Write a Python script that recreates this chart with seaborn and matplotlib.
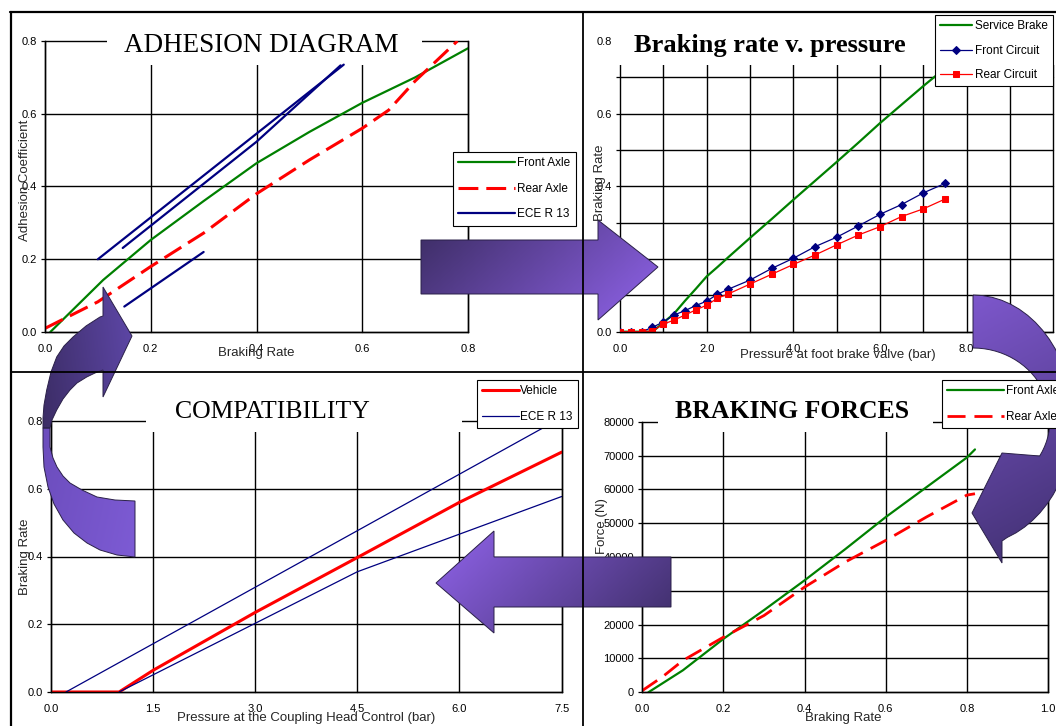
import numpy as np
import seaborn as sns
import matplotlib.pyplot as plt
from matplotlib.patches import Polygon, Rectangle
from matplotlib.colors import LinearSegmentedColormap

# ---- adhesion diagram (braking rate z vs adhesion coefficient k)
adh_front_z = [0.01, 0.11, 0.2, 0.3, 0.4, 0.5, 0.6, 0.7, 0.8]
adh_front_k = [0.0, 0.143, 0.253, 0.36, 0.464, 0.55, 0.63, 0.70, 0.78]
adh_rear_z = [0.0, 0.1, 0.2, 0.3, 0.4, 0.5, 0.6, 0.65, 0.7, 0.78]
adh_rear_k = [0.01, 0.083, 0.18, 0.272, 0.38, 0.473, 0.56, 0.61, 0.69, 0.80]
ece_a_z = [0.1, 0.565]
ece_a_k = [0.2, 0.735]
ece_b_z = [0.147, 0.4, 0.559]
ece_b_k = [0.231, 0.523, 0.733]
ece_c_z = [0.15, 0.30]
ece_c_k = [0.07, 0.22]

# ---- braking rate v. foot valve pressure
valve_p = [0, 0.25, 0.5, 0.75, 1.0, 1.25, 1.5, 1.75, 2.0, 2.25, 2.5,
           3.0, 3.5, 4.0, 4.5, 5.0, 5.5, 6.0, 6.5, 7.0, 7.5]
service = [0, 0, 0, 0, 0.025, 0.05, 0.085, 0.118, 0.152, 0.178, 0.205,
           0.258, 0.31, 0.363, 0.415, 0.467, 0.52, 0.574, 0.625, 0.676, 0.725]
front_circ = [0, 0, 0, 0.012, 0.027, 0.046, 0.058, 0.072, 0.084, 0.103, 0.117,
              0.142, 0.174, 0.202, 0.234, 0.26, 0.291, 0.323, 0.35, 0.382, 0.408]
rear_circ = [0, 0, 0, 0.002, 0.021, 0.032, 0.046, 0.060, 0.073, 0.092, 0.104,
             0.131, 0.158, 0.185, 0.211, 0.239, 0.266, 0.289, 0.317, 0.338, 0.365]

# ---- compatibility (coupling head pressure vs braking rate)
coupling_p = [0, 1.0, 1.5, 3.0, 4.5, 6.0, 7.5]
vehicle_z = [0, 0, 0.064, 0.235, 0.397, 0.56, 0.708]
ece_hi_p = [0.22, 7.5]
ece_hi_z = [0, 0.81]
ece_lo_p = [1.0, 4.5, 7.5]
ece_lo_z = [0, 0.355, 0.577]

# ---- braking forces
force_front_z = [0.015, 0.1, 0.2, 0.3, 0.4, 0.5, 0.6, 0.7, 0.8, 0.82]
force_front = [0, 6500, 15800, 24300, 33100, 42300, 51800, 60600, 69400, 71800]
force_rear_z = [0.0, 0.05, 0.1, 0.2, 0.3, 0.4, 0.5, 0.6, 0.7, 0.8, 0.82]
force_rear = [500, 4600, 9400, 16300, 22700, 31100, 38500, 44900, 51800, 58300, 58700]

GREEN, RED, NAVY = '#008000', '#ff0000', '#000080'

sns.set_style("white")
plt.rcParams['font.family'] = ['Liberation Sans', 'DejaVu Sans']
plt.rcParams['text.color'] = 'black'

W, H = 1056, 726
fig = plt.figure(figsize=(W / 100, H / 100), dpi=100)


def px_axes(x0, x1, y0, y1):
    return fig.add_axes([x0 / W, 1 - y1 / H, (x1 - x0) / W, (y1 - y0) / H])


def setup(ax, xlim, ylim, xg, yg, xl, yl, left=True, right=True):
    ax.set_xlim(*xlim)
    ax.set_ylim(*ylim)
    ax.set_xticks(xg)
    ax.set_xticklabels(xl)
    ax.set_yticks(yg)
    ax.set_yticklabels(yl)
    ax.grid(True, color='black', lw=1.0)
    for g in ax.get_xgridlines() + ax.get_ygridlines():
        g.set_clip_on(False)
    ax.tick_params(axis='x', length=0, pad=8.5, labelsize=8, colors='black')
    ax.tick_params(axis='y', length=3, width=0.9, pad=3, labelsize=8,
                   colors='black', left=True)
    ax.spines['top'].set_visible(False)
    ax.spines['left'].set_visible(left)
    ax.spines['right'].set_visible(right)
    for s in ax.spines.values():
        s.set_color('black')
        s.set_linewidth(1.0)


def labels(ax, xt, xpos, yt, ypos):
    ax.set_xlabel(xt, fontsize=9.5)
    ax.xaxis.set_label_coords(*xpos)
    ax.xaxis.label.set_va('center')
    ax.set_ylabel(yt, fontsize=9.5)
    ax.yaxis.set_label_coords(*ypos)
    ax.yaxis.label.set_va('center')


def title(ax, text, x, y, box, size, weight='normal'):
    ax.add_patch(Rectangle((box[0], box[2]), box[1] - box[0], box[3] - box[2],
                           transform=ax.transAxes, facecolor='white',
                           edgecolor='none', zorder=1.8, clip_on=False))
    ax.text(x, y, text, transform=ax.transAxes, ha='center', va='baseline',
            fontsize=size, family='Liberation Serif', weight=weight, zorder=3)


def line(ax, x, y, **kw):
    sns.lineplot(x=x, y=y, ax=ax, estimator=None, sort=False, **kw)
    return ax.lines[-1]


def legend(target, handles, names, anchor, hl, **kw):
    opts = dict(loc='upper left', bbox_to_anchor=(anchor[0] / W, 1 - anchor[1] / H),
                fancybox=False, framealpha=1, edgecolor='black',
                borderaxespad=0, handlelength=hl, handletextpad=0.2,
                labelspacing=1.15, borderpad=0.45, fontsize=8.5)
    opts.update(kw)
    if target is fig:
        lg = fig.legend(handles, names, **opts)
    else:
        lg = target.legend(handles, names, bbox_transform=fig.transFigure, **opts)
    lg.get_frame().set_linewidth(0.8)
    return lg


# ---------------- panel 1: adhesion diagram
ax1 = px_axes(45, 468, 41, 332)
setup(ax1, (0, 0.8), (0, 0.8), [0, 0.2, 0.4, 0.6, 0.8], [0, 0.2, 0.4, 0.6, 0.8],
      ['0.0', '0.2', '0.4', '0.6', '0.8'], ['0.0', '0.2', '0.4', '0.6', '0.8'])
h1 = line(ax1, adh_front_z, adh_front_k, color=GREEN, lw=1.6)
h2 = line(ax1, adh_rear_z, adh_rear_k, color=RED, lw=2.2)
h2.set_dashes([6.5, 2.6])
h3 = line(ax1, ece_a_z, ece_a_k, color=NAVY, lw=1.6)
line(ax1, ece_b_z, ece_b_k, color=NAVY, lw=1.6)
line(ax1, ece_c_z, ece_c_k, color=NAVY, lw=1.6)
labels(ax1, 'Braking Rate', (0.499, -0.072), 'Adhesion Coefficient', (-0.047, 0.522))
title(ax1, 'ADHESION DIAGRAM', 0.512, 0.962, (0.147, 0.891, 0.9175, 1.055), 19.5)
legend(ax1, [h1, h2, h3], ['Front Axle', 'Rear Axle', 'ECE R 13'], (453, 152), 4.8)

# ---------------- panel 2: braking rate v. pressure
ax2 = px_axes(620, 1053.3, 41, 331.7)
setup(ax2, (0, 10), (0, 0.8), list(range(11)), [i / 10 for i in range(9)],
      ['0.0', '', '2.0', '', '4.0', '', '6.0', '', '8.0', '', ''],
      ['0.0', '', '0.2', '', '0.4', '', '0.6', '', '0.8'], left=False, right=False)
g1 = line(ax2, valve_p, service, color=GREEN, lw=1.6)
g2 = line(ax2, valve_p, front_circ, color=NAVY, lw=0.9, marker='D', ms=4,
          mec=NAVY, mfc=NAVY)
g3 = line(ax2, valve_p, rear_circ, color=RED, lw=0.9, marker='s', ms=4,
          mec=RED, mfc=RED)
labels(ax2, 'Pressure at foot brake valve (bar)', (0.502, -0.08),
       'Braking Rate', (-0.046, 0.512))
title(ax2, 'Braking rate v. pressure', 0.346, 0.962, (-0.014, 1.01, 0.917, 1.08),
      19, 'bold')
legend(ax2, [g1, g2, g3], ['Service Brake', 'Front Circuit', 'Rear Circuit'],
       (935, 15), 2.7, labelspacing=1.05)

# ---------------- panel 3: compatibility
ax3 = px_axes(51, 561.6, 421, 692)
setup(ax3, (0, 7.5), (0, 0.8), [0, 1.5, 3.0, 4.5, 6.0, 7.5], [0, 0.2, 0.4, 0.6, 0.8],
      ['0.0', '1.5', '3.0', '4.5', '6.0', '7.5'], ['0.0', '0.2', '0.4', '0.6', '0.8'])
c1 = line(ax3, coupling_p, vehicle_z, color=RED, lw=2.2)
c2 = line(ax3, ece_hi_p, ece_hi_z, color=NAVY, lw=0.9)
line(ax3, ece_lo_p, ece_lo_z, color=NAVY, lw=0.9)
labels(ax3, 'Pressure at the Coupling Head Control (bar)', (0.4994, -0.096),
       'Braking Rate', (-0.051, 0.498))
title(ax3, 'COMPATIBILITY', 0.433, 1.01, (0.186, 0.805, 0.959, 1.096), 18.5)
legend(ax3, [c1, c2], ['Vehicle', 'ECE R 13'], (477, 380), 3.1, handletextpad=0.1)

# ---------------- panel 4: braking forces
ax4 = px_axes(642.3, 1048, 421.7, 692.3)
setup(ax4, (0, 1.0), (0, 80000), [0, 0.2, 0.4, 0.6, 0.8, 1.0],
      list(range(0, 80001, 10000)),
      ['0.0', '0.2', '0.4', '0.6', '0.8', '1.0'],
      [str(v) for v in range(0, 80001, 10000)])
f1 = line(ax4, force_front_z, force_front, color=GREEN, lw=1.6)
f2 = line(ax4, force_rear_z, force_rear, color=RED, lw=2.0)
f2.set_dashes([6.5, 3.2])
labels(ax4, 'Braking Rate', (0.495, -0.095), 'Force (N)', (-0.099, 0.615))
title(ax4, 'BRAKING FORCES', 0.368, 1.0126, (0.0387, 0.7165, 0.962, 1.09),
      18.5, 'bold')
legend(fig, [f1, f2], ['Front Axle', 'Rear Axle'], (942, 380), 4.8)

# ---------------- overlay: frame and flow arrows
ov = fig.add_axes([0, 0, 1, 1], zorder=3)
ov.patch.set_alpha(0)
ov.axis('off')


def shade(pts, c0, c1, wx=1.0, wy=0.0):
    pts = np.array(pts, float)
    x0, y0 = pts.min(0)
    x1, y1 = pts.max(0)
    u = np.linspace(0, 1, 80)
    U, V = np.meshgrid(u, u)
    G = wx * U + wy * V
    G = (G - G.min()) / (G.max() - G.min())
    cmap = LinearSegmentedColormap.from_list('g', [c0, c1])
    im = ov.imshow(G, cmap=cmap, extent=[x0, x1, y1, y0], origin='upper',
                   aspect='auto', interpolation='bilinear', zorder=1)
    poly = Polygon(pts, closed=True, facecolor='none', edgecolor='#2a2048',
                   lw=0.7, zorder=2)
    ov.add_patch(poly)
    im.set_clip_path(poly)


def ellipse(cx, cy, rx, ry, t0, t1, n=30):
    t = np.radians(np.linspace(t0, t1, n))
    return list(zip(cx + rx * np.cos(t), cy + ry * np.sin(t)))


# straight arrows
shade([(421, 240), (598, 240), (598, 220), (658, 267), (598, 320), (598, 294),
       (421, 294)], '#3b2c62', '#9063ea', 0.8, 0.35)
shade([(671, 557), (494, 557), (494, 531), (436, 583), (494, 633), (494, 607),
       (671, 607)], '#9063ea', '#3e2e68', 0.8, 0.35)

# right curved arrow
right_curve = (ellipse(973, 420, 100, 125, -90, 70)
               + [(1002, 541), (1002, 563), (972, 513), (1002, 453)]
               + ellipse(973, 420, 77, 72, 30, -90))
shade(right_curve, '#7d57cc', '#3f2f6e', 0.2, 1.0)

# left curved arrow: lighter lower half, darker upper half with head
left_low = [(135, 501), (135, 557), (117, 555), (100, 550), (87, 543), (74, 533),
            (63, 520), (54, 504), (48, 487), (44, 467), (43, 447), (43, 428),
            (50, 428), (50, 447), (53, 458), (57, 467), (63, 476), (70, 483),
            (82, 490), (97, 497), (115, 500)]
shade(left_low, '#6c4dbd', '#7d5bd4', 1.0, 0.3)
left_up = [(43, 428), (43, 418), (44, 405), (46.7, 390), (51, 372), (56.7, 357),
           (64, 346), (73, 337), (86, 326), (100, 317), (103, 316), (103, 287),
           (132, 336), (103, 397), (103, 370), (95, 373), (86.7, 377), (77, 383),
           (70, 390), (63, 399), (56.7, 410), (52, 420), (50, 428)]
shade(left_up, '#3c2d66', '#5e47a8', 1.0, -0.2)

# frame lines
ov.plot([10, W], [12, 12], color='black', lw=1.6)
ov.plot([11, 11], [12, H], color='black', lw=1.6)
ov.plot([11, W], [372, 372], color='black', lw=1.3)
ov.plot([583, 583], [12, H], color='black', lw=1.3)
ov.set_xlim(0, W)
ov.set_ylim(H, 0)

fig.savefig('out.png', dpi=100)
